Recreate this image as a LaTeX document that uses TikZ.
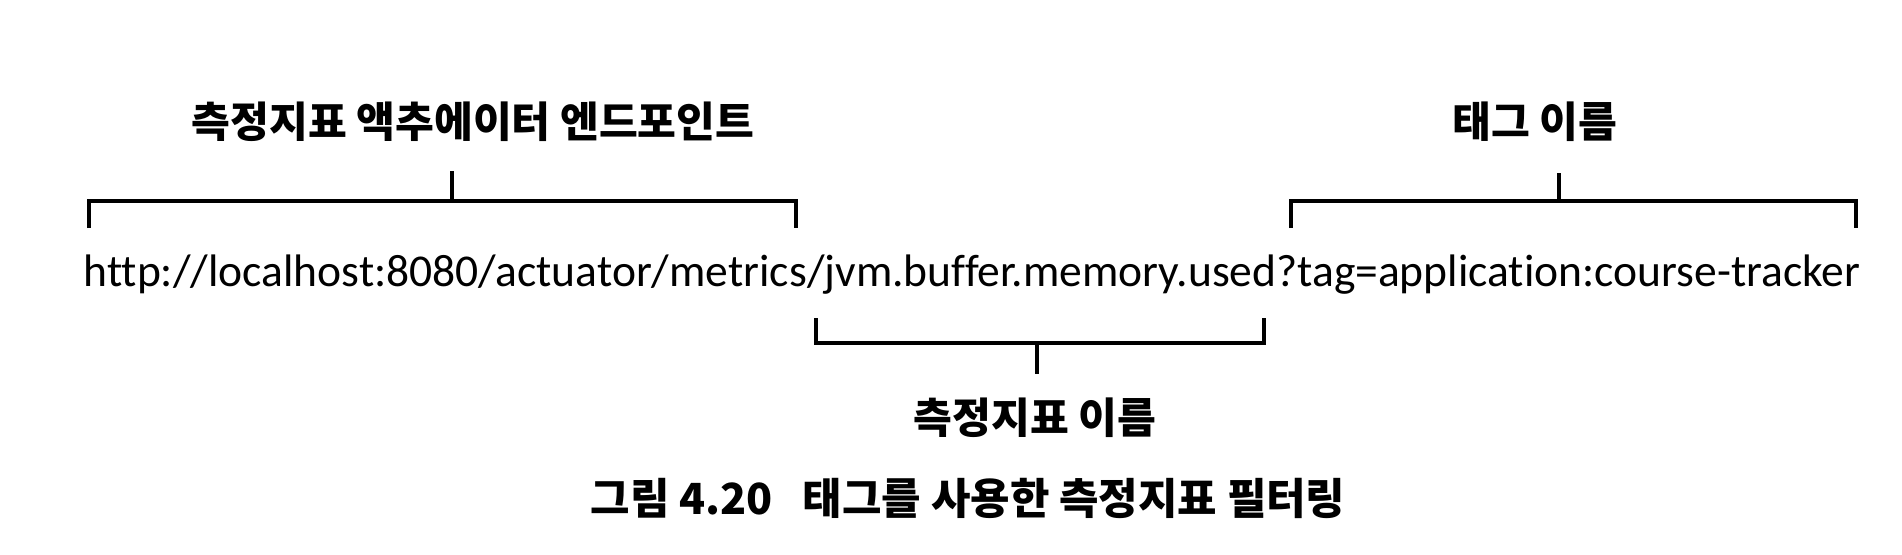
\documentclass[tikz,border=0pt]{standalone}
\usepackage{fontspec}
\setmainfont{Carlito}[Ligatures=NoCommon]
\newfontfamily\krfont{Noto Sans CJK KR}
\usetikzlibrary{positioning}

\begin{document}
\begin{tikzpicture}[x=0.01cm, y=-0.01cm, line width=0.9pt]
\tikzstyle{every node}=[inner sep=0pt]
\tikzstyle{krlabel}=[font=\krfont\bfseries\fontsize{12}{14}\selectfont]
\tikzstyle{urltext}=[font=\fontsize{12.95}{15}\selectfont]

\useasboundingbox (0,0) rectangle (1902,554);

% url and its three labels
\node [urltext, anchor=base] (url) at (972,286)
  {http://localhost:8080/actuator/metrics/jvm.buffer.memory.used?tag=application:course-tracker};
\node [krlabel] (endpoint) at (473,122) {측정지표 액추에이터 엔드포인트};
\node [krlabel] (tagname) at (1535,122) {태그 이름};
\node [krlabel] (metricname) at (1035,418) {측정지표 이름};
\node [krlabel, font=\krfont\bfseries\fontsize{12.2}{14}\selectfont] (caption) at (968,498)
  {그림 4.20\hspace{0.7em}태그를 사용한 측정지표 필터링};

% bracket corners
\coordinate (ep-l) at (89,228);
\coordinate (ep-r) at (796,228);
\coordinate (ep-m) at (452,201);
\coordinate (tg-l) at (1291,228);
\coordinate (tg-r) at (1856,228);
\coordinate (tg-m) at (1559,201);
\coordinate (mn-l) at (816,318);
\coordinate (mn-r) at (1264,318);
\coordinate (mn-m) at (1037,343);

% brackets
\draw (ep-l) -- (ep-l |- ep-m) -- (ep-r |- ep-m) -- (ep-r);
\draw (ep-m) -- ++(0,-30);
\draw (tg-l) -- (tg-l |- tg-m) -- (tg-r |- tg-m) -- (tg-r);
\draw (tg-m) -- ++(0,-28);
\draw (mn-l) -- (mn-l |- mn-m) -- (mn-r |- mn-m) -- (mn-r);
\draw (mn-m) -- ++(0,31);
\end{tikzpicture}
\end{document}
